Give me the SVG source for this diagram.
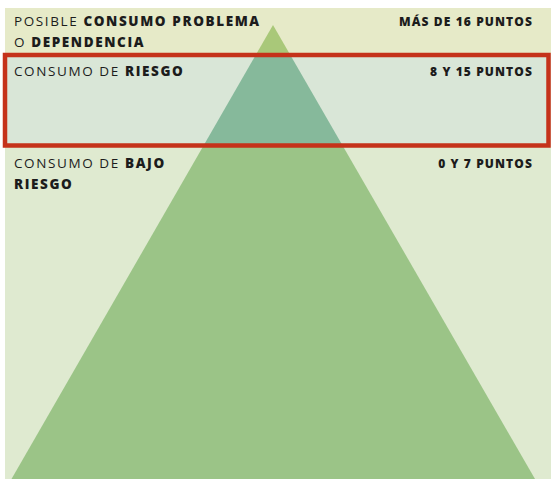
<svg xmlns="http://www.w3.org/2000/svg" width="551" height="489" viewBox="0 0 551 489">
<style>
text{font-family:"Open Sans","Liberation Sans",sans-serif;fill:#1c1c1c;letter-spacing:1.6px;font-weight:500}
.l{font-size:13.5px}
.r{font-size:12px;font-weight:800;text-anchor:end;letter-spacing:1.1px}
.b{font-weight:800}
</style>
<rect x="0" y="0" width="551" height="489" fill="#ffffff"/>
<g id="bands">
<rect x="5" y="8" width="546" height="46" fill="#e6eac8"/>
<rect x="5" y="54" width="546" height="92" fill="#d9e6d7"/>
<rect x="5" y="146" width="546" height="333" fill="#dfead0"/>
</g>
<defs>
<clipPath id="cTop"><rect x="0" y="0" width="551" height="54"/></clipPath>
<clipPath id="cMid"><rect x="0" y="54" width="551" height="92"/></clipPath>
<clipPath id="cBot"><rect x="0" y="146" width="551" height="343"/></clipPath>
</defs>
<g id="pyramid">
<polygon points="273,25 11.5,479 535,479" fill="#a9c879" clip-path="url(#cTop)"/>
<polygon points="273,25 11.5,479 535,479" fill="#86b99b" clip-path="url(#cMid)"/>
<polygon points="273,25 11.5,479 535,479" fill="#9bc487" clip-path="url(#cBot)"/>
</g>
<g id="highlight">
<rect x="5" y="55" width="543.5" height="90.5" fill="none" stroke="#c5321a" stroke-width="4.5"/>
</g>
<g id="label-top">
<text class="l" x="14" y="26">POSIBLE <tspan class="b">CONSUMO PROBLEMA</tspan></text>
<text class="l" x="14" y="46.5">O <tspan class="b">DEPENDENCIA</tspan></text>
<text class="r" x="533" y="26">MÁS DE 16 PUNTOS</text>
</g>
<g id="label-mid">
<text class="l" x="14" y="76">CONSUMO DE <tspan class="b">RIESGO</tspan></text>
<text class="r" x="533" y="75.7">8 Y 15 PUNTOS</text>
</g>
<g id="label-bot">
<text class="l" x="14" y="168">CONSUMO DE <tspan class="b">BAJO</tspan></text>
<text class="l b" x="14" y="189">RIESGO</text>
<text class="r" x="533" y="167.7">0 Y 7 PUNTOS</text>
</g>
</svg>
